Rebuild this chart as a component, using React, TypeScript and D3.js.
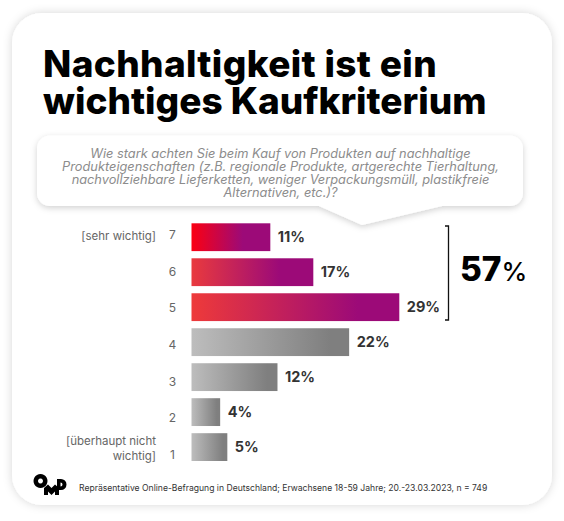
import * as d3 from 'd3';

const categories = ['7', '6', '5', '4', '3', '2', '1'];
const values = [11, 17, 29, 22, 12, 4, 5];
const valueLabels = ['11%', '17%', '29%', '22%', '12%', '4%', '5%'];
const gradients = ['grad7', 'grad6', 'grad5', 'gradGrey', 'gradGrey', 'gradGrey', 'gradGrey'];
const titleLines = ['Nachhaltigkeit ist ein', 'wichtiges Kaufkriterium'];
const titleSpacing = [0.35, 0];
const questionLines = [
  'Wie stark achten Sie beim Kauf von Produkten auf nachhaltige',
  'Produkteigenschaften (z.B. regionale Produkte, artgerechte Tierhaltung,',
  'nachvollziehbare Lieferketten, weniger Verpackungsmüll, plastikfreie',
  'Alternativen, etc.)?',
];
const footnote = 'Repräsentative Online-Befragung in Deutschland; Erwachsene 18-59 Jahre; 20.-23.03.2023, n = 749';

const font = 'Inter, "Noto Sans", sans-serif';

export default function App() {
  const y = d3.scaleBand().domain(categories).range([223.3, 461]).paddingInner(0.205);
  const x = d3.scaleLinear().domain([0, 29]).range([191.5, 399.3]);
  // the scale numbers drift away from the bars in the original, so they get their own scale
  const yTick = d3.scalePoint().domain(categories).range([239, 459]);

  return (
    <svg
      width={564}
      height={521}
      style={{ position: 'absolute', left: 0, top: 0, background: '#fff' }}
      fontFamily={font}
    >
      <defs>
        <linearGradient id="grad7">
          <stop offset="0" stopColor="#fb0012" />
          <stop offset="0.65" stopColor="#9c0a78" />
        </linearGradient>
        <linearGradient id="grad6">
          <stop offset="0" stopColor="#e93a3e" />
          <stop offset="0.72" stopColor="#9c0a78" />
        </linearGradient>
        <linearGradient id="grad5">
          <stop offset="0" stopColor="#ee3a3a" />
          <stop offset="0.8" stopColor="#9c0a78" />
        </linearGradient>
        <linearGradient id="gradGrey">
          <stop offset="0" stopColor="#bdbdbd" />
          <stop offset="0.88" stopColor="#7f7f7f" />
        </linearGradient>
        <filter id="cardShadow" x="-10%" y="-10%" width="120%" height="120%">
          <feDropShadow dx="0" dy="0" stdDeviation="5" floodColor="#000" floodOpacity="0.16" />
        </filter>
        <filter id="bubbleShadow" x="-10%" y="-20%" width="120%" height="140%">
          <feDropShadow dx="0" dy="2" stdDeviation="3" floodColor="#000" floodOpacity="0.18" />
        </filter>
      </defs>

      <rect x={12} y={13} width={540} height={492} rx={30} fill="#fff" filter="url(#cardShadow)" />

      {titleLines.map((line, i) => (
        <text
          key={line}
          x={43}
          y={77 + i * 37}
          fontSize={37}
          fontWeight={800}
          letterSpacing={titleSpacing[i]}
          fill="#000"
        >
          {line}
        </text>
      ))}

      <path
        d="M50,135.5 H510 a13,13 0 0 1 13,13 V193 a13,13 0 0 1 -13,13 H442 L362,225 L319,206 H50 a13,13 0 0 1 -13,-13 V148.5 a13,13 0 0 1 13,-13 Z"
        fill="#fff"
        filter="url(#bubbleShadow)"
      />
      {questionLines.map((line, i) => (
        <text
          key={line}
          x={280.5}
          y={158 + i * 13}
          fontSize={12.8}
          fontStyle="italic"
          fill="#8c8c8c"
          textAnchor="middle"
        >
          {line}
        </text>
      ))}

      {categories.map((c, i) => (
        <g key={c}>
          <rect
            x={x(0)}
            y={y(c)}
            width={x(values[i]) - x(0)}
            height={y.bandwidth()}
            fill={`url(#${gradients[i]})`}
          />
          <text
            x={x(values[i]) + 7.5}
            y={y(c)! + 19}
            fontSize={14.5}
            fontWeight={700}
            fill="#333"
          >
            {valueLabels[i]}
          </text>
          <text x={172.5} y={yTick(c)} fontSize={12} fill="#666" textAnchor="middle">{c}</text>
        </g>
      ))}

      <text x={156} y={240} fontSize={11.5} fill="#666" textAnchor="end">[sehr wichtig]</text>
      <text x={156} y={445} fontSize={11.5} fill="#666" textAnchor="end">[überhaupt nicht</text>
      <text x={156} y={460} fontSize={11.5} fill="#666" textAnchor="end">wichtig]</text>

      <path d="M445,226 H448.5 V320 H445" fill="none" stroke="#111" strokeWidth={1.3} />
      <text x={460} y={281} fontWeight={800} fill="#000">
        <tspan fontSize={33.5}>57</tspan>
        <tspan fontSize={26} fontWeight={500}>%</tspan>
      </text>

      <g fill="#000">
        <path
          fillRule="evenodd"
          d="M40.5,474 a7,7 0 1 0 0.01,0 Z M40.5,478.5 a2.5,2.5 0 1 1 -0.01,0 Z"
        />
        <path d="M44,488 L48,484.5 L51.5,488 L55,484.5 L59,488 V495 H55 V491.5 L51.5,495 L48,491.5 V495 H44 Z" />
        <path
          fillRule="evenodd"
          d="M57,479 H61 a5.5,5.5 0 0 1 0,11 H57 Z M60.5,482.5 V486.5 a2,2 0 0 0 0,-4 Z"
        />
      </g>
      <text x={79} y={491} fontSize={8.6} fill="#333">{footnote}</text>
    </svg>
  );
}
